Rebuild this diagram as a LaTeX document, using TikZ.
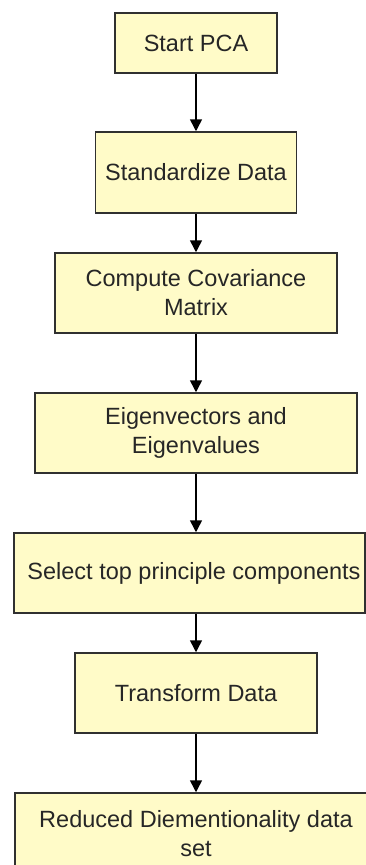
\documentclass[tikz,border=0pt]{standalone}
\usepackage{fontspec}
\setmainfont{Liberation Sans}
\usetikzlibrary{arrows.meta}
\definecolor{boxfill}{HTML}{FFFBC8}
\definecolor{boxline}{HTML}{303030}
\definecolor{txt}{HTML}{262626}
\tikzset{
  stepbox/.style={draw=boxline, fill=boxfill, line width=1.5pt, rectangle,
    align=center, inner sep=0pt, text=txt,
    font=\fontsize{23.5}{29}\selectfont},
  arr/.style={draw=black, line width=1.5pt,
    -{Triangle[width=12pt,length=12pt]}}
}
\begin{document}
\begin{tikzpicture}[x=1pt,y=1pt]
\useasboundingbox (0,0) rectangle (366,-865);
\clip (0,0) rectangle (366,-865);
\fill[white] (0,0) rectangle (366,-865);
\node[stepbox, minimum width=162pt, minimum height=60pt] (n1) at (196,-43) {Start PCA};
\node[stepbox, minimum width=201pt, minimum height=81pt] (n2) at (196,-172.5) {Standardize Data};
\node[stepbox, minimum width=282pt, minimum height=80pt] (n3) at (196,-293) {Compute Covariance\\Matrix};
\node[stepbox, minimum width=322pt, minimum height=80pt] (n4) at (196,-433) {Eigenvectors and\\Eigenvalues};
\node[stepbox, minimum width=351pt, minimum height=80pt] (n5) at (189.5,-573) {\hspace*{9pt}Select top principle components};
\node[stepbox, minimum width=242pt, minimum height=80pt] (n6) at (196,-693) {Transform Data};
\node[stepbox, minimum width=362pt, minimum height=82pt] (n7) at (196,-834) {Reduced Diementionality data\\set};
\draw[arr] (n1.south) -- (n2.north);
\draw[arr] (n2.south) -- (n3.north);
\draw[arr] (n3.south) -- (n4.north);
\draw[arr] (n4.south) -- (n4.south |- n5.north);
\draw[arr] (n6.north |- n5.south) -- (n6.north);
\draw[arr] (n6.south) -- (n7.north);
\end{tikzpicture}
\end{document}
